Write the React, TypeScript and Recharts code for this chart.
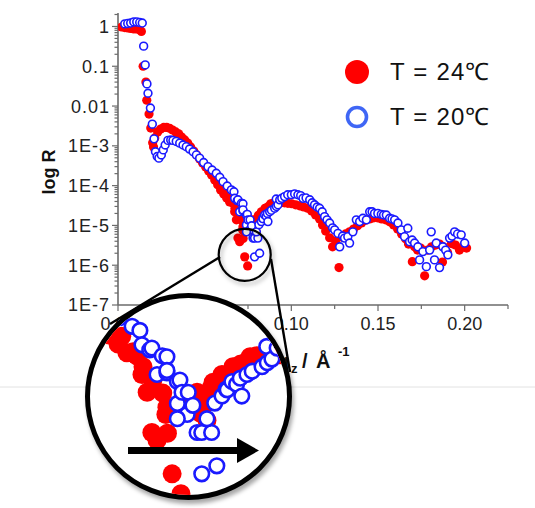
import { Legend, ReferenceDot, Scatter, ScatterChart, XAxis, YAxis } from 'recharts';

// [q_z (1/Å), R]
const points24: [number, number][] = [
  [0.0021, 0.97], [0.0039, 0.94], [0.0056, 0.92], [0.0073, 0.89], [0.0091, 0.87], [0.0108, 0.87],
  [0.0122, 0.84], [0.0135, 0.75], [0.0145, 0.1], [0.0161, 0.04], [0.0166, 0.014], [0.0179, 0.0063],
  [0.0189, 0.0028], [0.02, 0.0012], [0.0205, 9.4e-4], [0.0212, 1.58e-3], [0.0229, 2.24e-3],
  [0.0246, 2.65e-3], [0.0264, 2.9e-3], [0.0281, 2.9e-3], [0.0298, 2.75e-3], [0.0315, 2.5e-3],
  [0.0333, 2.24e-3], [0.035, 2.0e-3], [0.0367, 1.66e-3], [0.0385, 1.41e-3], [0.0402, 1.18e-3],
  [0.0419, 9.4e-4], [0.0437, 7.4e-4], [0.0454, 5.9e-4], [0.0471, 4.7e-4], [0.0488, 3.7e-4],
  [0.0506, 2.95e-4], [0.0523, 2.34e-4], [0.054, 1.86e-4], [0.0558, 1.38e-4], [0.0575, 1.05e-4],
  [0.0592, 7.8e-5], [0.061, 6.2e-5], [0.0627, 4.9e-5], [0.0634, 6.0e-5], [0.0644, 3.9e-5],
  [0.0656, 4.0e-5], [0.0663, 3.6e-5], [0.0673, 2.2e-5], [0.0675, 2.7e-5], [0.0683, 1.38e-5],
  [0.0692, 4.8e-6], [0.0694, 1.9e-5], [0.0702, 3.9e-6], [0.0713, 1.35e-5], [0.0719, 7.7e-6],
  [0.0721, 9.3e-6], [0.0722, 4.7e-6], [0.0731, 1.62e-6], [0.0748, 9.6e-7], [0.0755, 8.5e-6],
  [0.076, 1.15e-5], [0.077, 1.1e-5], [0.0779, 1.38e-5], [0.0785, 8.0e-6], [0.0794, 1.03e-5],
  [0.0798, 6.6e-6], [0.0806, 1.55e-5], [0.081, 1.8e-5], [0.0827, 2.2e-5], [0.0838, 2.1e-5],
  [0.0846, 2.45e-5], [0.0848, 2.7e-5], [0.0863, 2.9e-5], [0.0875, 3.1e-5], [0.0881, 3.5e-5],
  [0.0894, 3.6e-5], [0.0915, 3.5e-5], [0.0925, 3.9e-5], [0.0938, 3.7e-5], [0.0961, 3.7e-5],
  [0.098, 3.6e-5], [0.1002, 3.5e-5], [0.1025, 3.3e-5], [0.1048, 3.1e-5], [0.1071, 2.9e-5],
  [0.1094, 2.7e-5], [0.1117, 2.3e-5], [0.114, 1.83e-5], [0.1163, 1.45e-5], [0.118, 1.03e-5],
  [0.1198, 7.2e-6], [0.1221, 4.9e-6], [0.1238, 2.9e-6], [0.1255, 4.1e-6], [0.1275, 8.7e-7],
  [0.129, 5.1e-6], [0.1313, 6.1e-6], [0.1336, 6.9e-6], [0.1359, 8.1e-6], [0.1382, 9.8e-6],
  [0.1405, 1.15e-5], [0.1428, 1.35e-5], [0.1452, 1.45e-5], [0.1475, 1.55e-5], [0.1498, 1.55e-5],
  [0.1521, 1.45e-5], [0.1544, 1.38e-5], [0.1567, 1.23e-5], [0.159, 1.03e-5], [0.1613, 8.1e-6],
  [0.1636, 6.1e-6], [0.1659, 4.6e-6], [0.1676, 3.4e-6], [0.1698, 1.23e-6], [0.1711, 2.9e-6],
  [0.1728, 2.4e-6], [0.1746, 2.7e-6], [0.1769, 5.4e-7], [0.1786, 2.4e-6], [0.1809, 2.9e-6],
  [0.1832, 3.2e-6], [0.1855, 3.4e-6], [0.1872, 1.2e-6], [0.1878, 2.9e-6], [0.1901, 2.1e-6],
  [0.1924, 3.5e-6], [0.1947, 3.2e-6], [0.197, 2.4e-6], [0.1993, 2.9e-6], [0.2011, 2.7e-6],
];

const points20: [number, number][] = [
  [0.0039, 1.16], [0.0056, 1.19], [0.0073, 1.22], [0.0091, 1.3], [0.0108, 1.3], [0.0125, 1.26],
  [0.014, 1.22], [0.0148, 0.32], [0.0157, 0.108], [0.0167, 0.036], [0.0173, 0.021], [0.0187, 0.0089],
  [0.0198, 0.0035], [0.0208, 0.0015], [0.0216, 7.1e-4], [0.0226, 5.4e-4], [0.0236, 4.9e-4],
  [0.025, 5.9e-4], [0.0261, 7.9e-4], [0.0272, 1.05e-3], [0.0288, 1.37e-3], [0.0304, 1.4e-3],
  [0.0317, 1.37e-3], [0.0336, 1.29e-3], [0.0356, 1.17e-3], [0.0375, 1.05e-3], [0.0394, 9.5e-4],
  [0.0413, 8.3e-4], [0.0433, 7.1e-4], [0.0452, 5.9e-4], [0.0471, 4.9e-4], [0.0494, 3.8e-4],
  [0.0519, 3.0e-4], [0.0543, 2.46e-4], [0.0567, 2.04e-4], [0.0587, 1.62e-4], [0.0606, 1.26e-4],
  [0.063, 9.8e-5], [0.0654, 7.8e-5], [0.0669, 7.0e-5], [0.0673, 4.8e-5], [0.0688, 4.2e-5],
  [0.0692, 4.4e-5], [0.0712, 3.6e-5], [0.0702, 2.2e-5], [0.0721, 3.5e-5], [0.0721, 2.3e-5],
  [0.0721, 2.45e-5], [0.0741, 1.83e-5], [0.0746, 1.9e-5], [0.0741, 1.03e-5], [0.075, 1.38e-5],
  [0.0762, 1.38e-5], [0.076, 7.7e-6], [0.0771, 9.8e-6], [0.0741, 6.9e-6], [0.0779, 4.8e-6],
  [0.0788, 4.8e-6], [0.0807, 4.8e-6], [0.0788, 1.62e-6], [0.0817, 2.0e-6], [0.0798, 6.9e-6],
  [0.0813, 1.04e-5], [0.0827, 1.25e-5], [0.0835, 1.5e-5], [0.0837, 1.47e-5], [0.0846, 1.83e-5],
  [0.0855, 1.7e-5], [0.0862, 2.0e-5], [0.0865, 1.25e-5], [0.0875, 2.2e-5], [0.0885, 2.4e-5],
  [0.0904, 2.7e-5], [0.0913, 4.6e-5], [0.0914, 3.0e-5], [0.0923, 3.3e-5], [0.0933, 4.4e-5],
  [0.0945, 4.8e-5], [0.0961, 5.3e-5], [0.0979, 5.9e-5], [0.1, 5.9e-5], [0.1019, 6.2e-5],
  [0.1038, 5.9e-5], [0.1054, 5.6e-5], [0.1067, 4.8e-5], [0.1085, 4.9e-5], [0.1106, 4.4e-5],
  [0.112, 3.7e-5], [0.1134, 3.3e-5], [0.1149, 2.9e-5], [0.1163, 2.7e-5], [0.1178, 2.2e-5],
  [0.1192, 1.66e-5], [0.1206, 1.38e-5], [0.1221, 1.15e-5], [0.1238, 8.7e-6], [0.125, 7.7e-6],
  [0.1269, 6.3e-6], [0.1279, 2.9e-6], [0.1296, 5.4e-6], [0.1307, 4.8e-6], [0.1326, 5.2e-6],
  [0.1336, 3.6e-6], [0.1355, 6.9e-6], [0.1375, 1.38e-5], [0.1394, 1.25e-5], [0.1413, 1.51e-5],
  [0.1433, 1.38e-5], [0.1452, 2.2e-5], [0.1466, 2.2e-5], [0.148, 2.0e-5], [0.1499, 2.0e-5],
  [0.1519, 1.9e-5], [0.1532, 1.83e-5], [0.1548, 1.83e-5], [0.1567, 1.51e-5], [0.1581, 1.46e-5],
  [0.1596, 1.38e-5], [0.1615, 1.15e-5], [0.1634, 7.7e-6], [0.1653, 5.2e-6], [0.1672, 8.5e-6],
  [0.1682, 3.9e-6], [0.1697, 4.3e-6], [0.1711, 3.6e-6], [0.173, 2.9e-6], [0.174, 1.36e-6],
  [0.1759, 2.2e-6], [0.1779, 9.2e-7], [0.1798, 2.4e-6], [0.1807, 6.9e-6], [0.1826, 1.36e-6],
  [0.1836, 3.6e-6], [0.1855, 8.7e-7], [0.1874, 2.9e-6], [0.189, 2.4e-6], [0.1903, 1.82e-6],
  [0.1913, 4.8e-6], [0.1927, 5.4e-6], [0.1942, 6.9e-6], [0.1959, 6.1e-6], [0.198, 5.8e-6],
  [0.2, 3.6e-6],
];

const seriesNames = ['T = 24℃', 'T = 20℃'];

const xMajorTicks = [0, 0.05, 0.1, 0.15, 0.2];
const xTickLabels = ['0.00', '0.05', '0.10', '0.15', '0.20'];
const xMinorTicks = [0.025, 0.075, 0.125, 0.175, 0.225];

const yMajorTicks = [1e-7, 1e-6, 1e-5, 1e-4, 1e-3, 0.01, 0.1, 1];
const yTickLabels = ['1E-7', '1E-6', '1E-5', '1E-4', '1E-3', '0.01', '0.1', '1'];
const yMinorSteps = [2, 3, 4, 5, 6, 7, 8, 9];

// magnified region shown in the round inset
const zoomX: [number, number] = [0.0573, 0.0952];
const zoomY: [number, number] = [9.3e-7, 1.64e-4];
const zoomCenter: [number, number] = [0.0731, 1.82e-6];

const X_MAX = 0.225;
const Y_MIN = 1e-7;
const Y_MAX = 2.18;

const data24 = points24.map(([q, r]) => ({ q, r }));
const data20 = points20.map(([q, r]) => ({ q, r }));

const yMinorTicks: number[] = [];
yMajorTicks.forEach((d) => {
  yMinorSteps.forEach((k) => {
    if (k * d <= Y_MAX) yMinorTicks.push(k * d);
  });
});

const RED = '#ff0000';
const BLUE = '#1a1aff';
const AXIS = '#6b6b6b';
const FONT = '"Liberation Sans", Arial, sans-serif';

const YTick = (props: any) => {
  const { x, y, payload } = props;
  const i = yMajorTicks.indexOf(payload.value);
  const ax = x + 8;
  return (
    <g>
      <line x1={ax - (i >= 0 ? 6 : 3.5)} x2={ax} y1={y} y2={y} stroke={AXIS} strokeWidth={1.2} />
      {i >= 0 && (
        <text x={x} y={y} dy="0.36em" textAnchor="end" fontSize={18} letterSpacing={1}
          fontFamily={FONT} fill="#222">
          {yTickLabels[i]}
        </text>
      )}
    </g>
  );
};

const XTick = (props: any) => {
  const { x, y, payload } = props;
  const i = xMajorTicks.indexOf(payload.value);
  const ay = y - 10;
  return (
    <g>
      <line x1={x} x2={x} y1={ay} y2={ay + (i >= 0 ? 6 : 4)} stroke={AXIS} strokeWidth={1.2} />
      {i >= 0 && (
        <text x={x} y={y + 15} textAnchor="middle" fontSize={18} fontFamily={FONT} fill="#222">
          {xTickLabels[i]}
        </text>
      )}
    </g>
  );
};

const dot = (r: number) => (p: any) => <circle cx={p.cx} cy={p.cy} r={r} fill={RED} />;
const ring = (r: number, w: number) => (p: any) =>
  <circle cx={p.cx} cy={p.cy} r={r} fill="#fff" stroke={BLUE} strokeWidth={w} />;

const LegendBox = () => (
  <div style={{ fontFamily: FONT, fontSize: 24, letterSpacing: 1.2, color: '#111', whiteSpace: 'nowrap' }}>
    {seriesNames.map((name, i) => (
      <div key={name} style={{ display: 'flex', alignItems: 'center', height: 34, marginTop: i ? 11 : 0 }}>
        <svg width={34} height={34}>
          {i === 0
            ? <circle cx={17} cy={17} r={12} fill={RED} />
            : <circle cx={17} cy={17} r={9.5} fill="none" stroke="#3f66f5" strokeWidth={3.6} />}
        </svg>
        <span style={{ marginLeft: 16, lineHeight: '34px' }}>{name}</span>
      </div>
    ))}
  </div>
);

export default function App() {
  return (
    <div style={{ position: 'absolute', left: 0, top: 0, width: 535, height: 508, background: '#fff' }}>
      <ScatterChart width={535} height={508} margin={{ top: 13, right: 27, bottom: 173, left: 0 }}>
        <XAxis type="number" dataKey="q" domain={[0, X_MAX]} allowDataOverflow
          ticks={[...xMajorTicks, ...xMinorTicks]} interval={0} height={30}
          tickSize={6} tickMargin={4} tickLine={false} tick={<XTick />}
          axisLine={{ stroke: AXIS, strokeWidth: 1.6 }} />
        <YAxis type="number" dataKey="r" scale="log" domain={[Y_MIN, Y_MAX]} allowDataOverflow
          ticks={[...yMajorTicks, ...yMinorTicks]} interval={0} width={118}
          tickSize={6} tickMargin={2} tickLine={false} tick={<YTick />}
          axisLine={{ stroke: AXIS, strokeWidth: 1.6 }} />
        <Scatter name={seriesNames[0]} data={data24} shape={dot(4.6)} isAnimationActive={false} />
        <Scatter name={seriesNames[1]} data={data20} shape={ring(3.9, 1.6)} isAnimationActive={false} />
        <ReferenceDot x={zoomCenter[0]} y={zoomCenter[1]} r={26} fill="none" stroke="#000"
          strokeWidth={2.2} style={{ filter: 'drop-shadow(2px 3px 2px rgba(0,0,0,0.3))' }} />
        <Legend layout="vertical" align="center" verticalAlign="middle" content={() => <LegendBox />}
          wrapperStyle={{ left: 340, top: 55, width: 195, height: 90 }} />
      </ScatterChart>

      <svg width={535} height={508} style={{ position: 'absolute', left: 0, top: 0, pointerEvents: 'none' }}>
        <line x1={0} x2={535} y1={387} y2={387} stroke="#e2e2e2" strokeWidth={1} />
        <text transform="translate(49,172) rotate(-90)" textAnchor="middle" dominantBaseline="central"
          fontSize={18} fontWeight="bold" fontFamily={FONT} fill="#111">log R</text>
        <text y={368} fontSize={20} fontWeight="bold" fontFamily={FONT} fill="#111">
          <tspan x={277}>q</tspan>
          <tspan x={291} dy={5} fontSize={13}>z</tspan>
          <tspan x={302} dy={-5}>/</tspan>
          <tspan x={316}>Å</tspan>
          <tspan x={338} dy={-12} fontSize={13}>-1</tspan>
        </text>
        <line x1={220} y1={257} x2={110} y2={324} stroke="#000" strokeWidth={2.4} />
        <line x1={271} y1={259} x2={290} y2={372} stroke="#000" strokeWidth={2.4} />
      </svg>

      <div style={{
        position: 'absolute', left: 85, top: 293, width: 207, height: 207, boxSizing: 'border-box',
        border: '5px solid #000', borderRadius: '50%', overflow: 'hidden', background: '#fff',
        boxShadow: '2px 4px 4px rgba(0,0,0,0.35)',
      }}>
        <ScatterChart width={197} height={197} margin={{ top: 0, right: 0, bottom: 0, left: 0 }}>
          <XAxis type="number" dataKey="q" domain={zoomX} allowDataOverflow hide />
          <YAxis type="number" dataKey="r" scale="log" domain={zoomY} allowDataOverflow hide />
          <Scatter data={data24} shape={dot(9.5)} isAnimationActive={false} />
          <Scatter data={data20} shape={ring(7.3, 2.6)} isAnimationActive={false} />
        </ScatterChart>
      </div>

      <svg width={535} height={508} style={{ position: 'absolute', left: 0, top: 0, pointerEvents: 'none' }}>
        <rect x={128} y={447} width={112} height={7} fill="#000" />
        <polygon points="237,438 259,450.5 237,463" fill="#000" />
      </svg>
    </div>
  );
}
